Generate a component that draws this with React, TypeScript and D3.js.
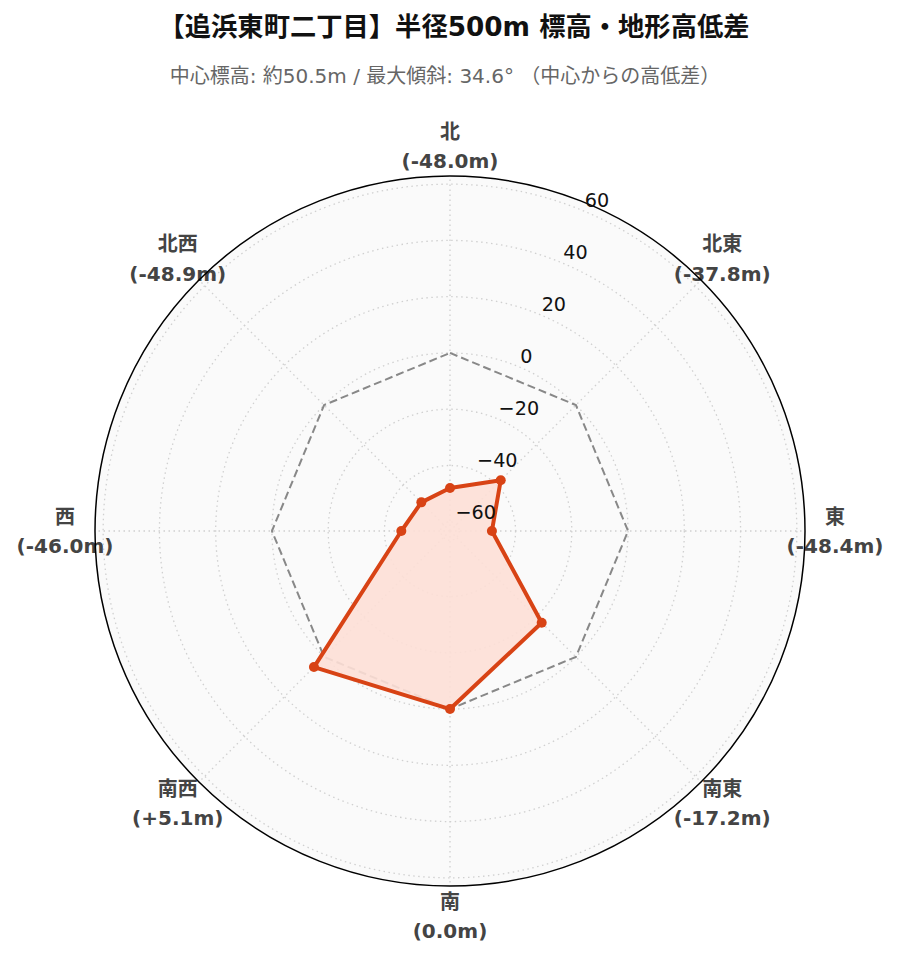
import React from "react";
import * as d3 from "d3";

const directions = ["北", "北東", "東", "南東", "南", "南西", "西", "北西"];
const diffValues = [-48.0, -37.8, -48.4, -17.2, 0.0, 5.1, -46.0, -48.9];
const baselineValues = [0, 0, 0, 0, 0, 0, 0, 0];
const radialTicks = [-60, -40, -20, 0, 20, 40, 60];
const titleText = "【追浜東町二丁目】半径500m 標高・地形高低差";
const subtitleText = "中心標高: 約50.5m / 最大傾斜: 34.6° （中心からの高低差）";

const W = 899;
const H = 962;
const cx = 450;
const cy = 531;
const R = 355;

const fmt = (v: number) => (v > 0 ? "+" : v < 0 ? "-" : "") + Math.abs(v).toFixed(1) + "m";

export default function App() {
  const r = d3.scaleLinear().domain([-63.3, 62.9]).range([0, R]);
  const angle = d3
    .scalePoint<string>()
    .domain(directions)
    .range([0, 2 * Math.PI - (2 * Math.PI) / directions.length]);

  const pt = (i: number, rad: number) => {
    const a = angle(directions[i])!;
    return [cx + rad * Math.sin(a), cy - rad * Math.cos(a)];
  };

  const radial = d3
    .lineRadial<number>()
    .angle((_, i) => angle(directions[i])!)
    .radius((v) => r(v))
    .curve(d3.curveLinearClosed);

  const tickAngle = (22.5 * Math.PI) / 180;
  const font = "'DejaVu Sans', 'Noto Sans CJK JP', sans-serif";

  return (
    <svg width={W} height={H} style={{ display: "block", position: "absolute", left: 0, top: 0 }}>
      <rect width={W} height={H} fill="#fff" />
      <text x={454} y={27} textAnchor="middle" dominantBaseline="central" fontFamily={font} fontWeight="bold" fontSize={26.3} fill="#111">
        {titleText}
      </text>
      <text x={445} y={76} textAnchor="middle" dominantBaseline="central" fontFamily={font} fontSize={20} fill="#666">
        {subtitleText}
      </text>

      <circle cx={cx} cy={cy} r={R} fill="#fafafa" />
      {radialTicks.map((t) => (
        <circle key={t} cx={cx} cy={cy} r={r(t)} fill="none" stroke="#d0d0d0" strokeWidth={1.3} strokeDasharray="1.5,3.5" />
      ))}
      {directions.map((d, i) => {
        const [x, y] = pt(i, R);
        return <line key={d} x1={cx} y1={cy} x2={x} y2={y} stroke="#d0d0d0" strokeWidth={1.3} strokeDasharray="1.5,3.5" />;
      })}

      {directions.map((d, i) => {
        const [x, y] = pt(i, 385);
        return (
          <text key={d} textAnchor="middle" fontFamily={font} fontWeight="bold" fontSize={20} fill="#444">
            <tspan x={x} y={y - 14.5} dominantBaseline="central">{d}</tspan>
            <tspan x={x} y={y + 15} dominantBaseline="central">({fmt(diffValues[i])})</tspan>
          </text>
        );
      })}

      <circle cx={cx} cy={cy} r={R} fill="none" stroke="#000" strokeWidth={1.5} />

      <g transform={`translate(${cx},${cy})`}>
        <path d={radial(baselineValues)!} fill="none" stroke="#888" strokeWidth={2} strokeDasharray="8,4" />
        <path d={radial(diffValues)!} fill="#fddfd6" fillOpacity={0.9} stroke="#d84315" strokeWidth={4} strokeLinejoin="round" />
      </g>
      {diffValues.map((v, i) => {
        const [x, y] = pt(i, r(v));
        return <circle key={i} cx={x} cy={y} r={5} fill="#d84315" />;
      })}

      {radialTicks.map((t) => {
        const x = cx + r(t) * Math.sin(tickAngle);
        const y = cy - r(t) * Math.cos(tickAngle);
        return (
          <text key={t} x={x + 2} y={y - 10} dominantBaseline="central" fontFamily="'DejaVu Sans', sans-serif" fontSize={19.2} fill="#111">
            {t < 0 ? "\u2212" + Math.abs(t) : String(t)}
          </text>
        );
      })}
    </svg>
  );
}
